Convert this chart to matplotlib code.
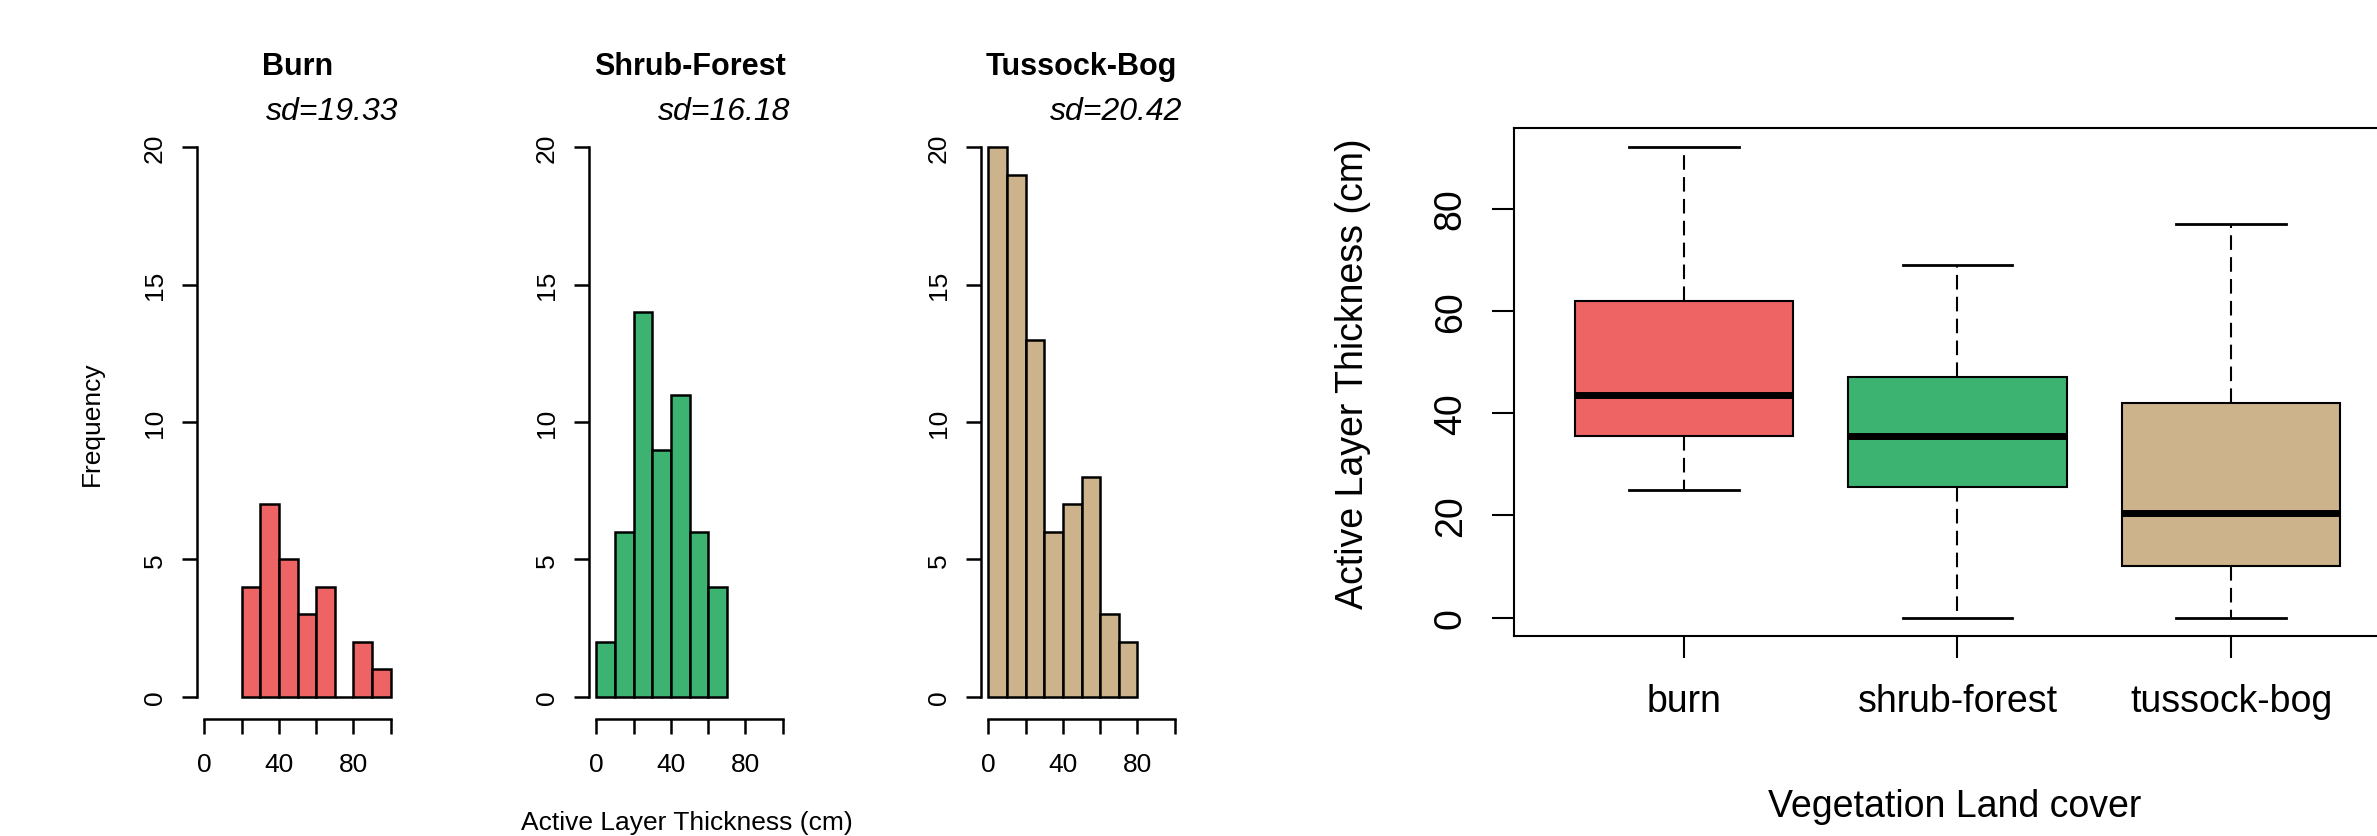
import numpy as np, matplotlib
matplotlib.use("Agg")
import matplotlib.pyplot as plt
from matplotlib.transforms import blended_transform_factory as blend

plt.rcParams["font.family"] = ["Liberation Sans", "DejaVu Sans"]

# --- histogram data: counts per 10 cm bin of active layer thickness ---
HIST_TITLES = ["Burn", "Shrub-Forest", "Tussock-Bog"]
HIST_SD = [19.33, 16.18, 20.42]
HIST_START = [20, 0, 0]          # first break (cm)
BIN_W = 10
burn_counts = [4, 7, 5, 3, 4, 0, 2, 1]
shrub_counts = [2, 6, 14, 9, 11, 6, 4]
tussock_counts = [20, 19, 13, 6, 7, 8, 3, 2]
HIST_COUNTS = [burn_counts, shrub_counts, tussock_counts]

# --- boxplot summary (cm) ---
BOX_LABELS = ["burn", "shrub-forest", "tussock-bog"]
box_whislo = [25, 0, 0]
box_q1 = [35.5, 25.5, 10]
box_med = [43.5, 35.5, 20.5]
box_q3 = [62, 47, 42]
box_whishi = [92, 69, 77]

COLORS = ["#EE6363", "#3CB371", "#CDB38B"]

W, H = 2377, 837
fig = plt.figure(figsize=(W / 100, H / 100), dpi=100)

def px_axes(left, top, right, bottom):
    return fig.add_axes([left / W, 1 - bottom / H, (right - left) / W, (bottom - top) / H])

# --- three histograms ---
for i, (ttl, sd, start, counts, col) in enumerate(zip(HIST_TITLES, HIST_SD, HIST_START, HIST_COUNTS, COLORS)):
    left = 197 + 392 * i
    ax = px_axes(left, 126.5, left + 201, 719.7)
    edges = start + BIN_W * np.arange(len(counts) + 1)
    ax.hist(edges[:-1], bins=edges, weights=counts, color=col, edgecolor="k", lw=1.8)
    ax.set_xlim(-4, 104); ax.set_ylim(-0.8, 20.8)
    for s in ["top", "right"]: ax.spines[s].set_visible(False)
    ax.spines["left"].set_bounds(0, 20); ax.spines["bottom"].set_bounds(0, 100)
    for s in ["left", "bottom"]: ax.spines[s].set_linewidth(1.8)
    ax.set_xticks(range(0, 101, 20), ["0", "", "40", "", "80", ""])
    ax.set_yticks(range(0, 21, 5))
    ax.tick_params(length=10.8, width=1.8, labelsize=19)
    ax.tick_params(axis="x", pad=13); ax.tick_params(axis="y", pad=11)
    plt.setp(ax.get_yticklabels(), rotation=90, va="center")
    tr = blend(ax.transAxes, fig.transFigure)
    ax.text(0.5, 1 - 75 / H, ttl, transform=tr, ha="center", va="baseline", fontsize=22, fontweight="bold")
    ax.text(1.0, 1 - 120 / H, f"sd={sd:.2f}", transform=tr, ha="right", va="baseline", fontsize=23, style="italic")

fig.text(92 / W, 1 - 424 / H, "Frequency", rotation=90, ha="center", va="center", fontsize=19)
fig.text(686.5 / W, 1 - 830 / H, "Active Layer Thickness (cm)", ha="center", va="baseline", fontsize=19)

# --- boxplot ---
ax = px_axes(1514.4, 129.4, 2400.6, 637.4)
stats = [dict(label=l, whislo=lo, q1=a, med=m, q3=b, whishi=hi, fliers=[])
         for l, lo, a, m, b, hi in zip(BOX_LABELS, box_whislo, box_q1, box_med, box_q3, box_whishi)]
bp = ax.bxp(stats, positions=[1, 2, 3], widths=0.8, capwidths=0.4, patch_artist=True, showfliers=False,
            boxprops=dict(lw=1.5, edgecolor="k"),
            whiskerprops=dict(lw=1.5, ls=(0, (7, 3.5))),
            capprops=dict(lw=2),
            medianprops=dict(color="k", lw=5, solid_capstyle="butt"))
for patch, c in zip(bp["boxes"], COLORS): patch.set_facecolor(c)
ax.set_xlim(0.38, 3.62); ax.set_ylim(-3.68, 95.68)
ax.set_yticks(range(0, 81, 20))
for s in ax.spines.values(): s.set_linewidth(1.5)
ax.tick_params(length=15.8, width=1.5, labelsize=27)
ax.tick_params(axis="x", pad=18); ax.tick_params(axis="y", pad=17)
plt.setp(ax.get_yticklabels(), rotation=90, va="center")
fig.text(1353 / W, 1 - 374 / H, "Active Layer Thickness (cm)", rotation=90, ha="center", va="center", fontsize=27)
fig.text(1955 / W, 1 - 817 / H, "Vegetation Land cover", ha="center", va="baseline", fontsize=27)

fig.savefig("out.png", dpi=100)
